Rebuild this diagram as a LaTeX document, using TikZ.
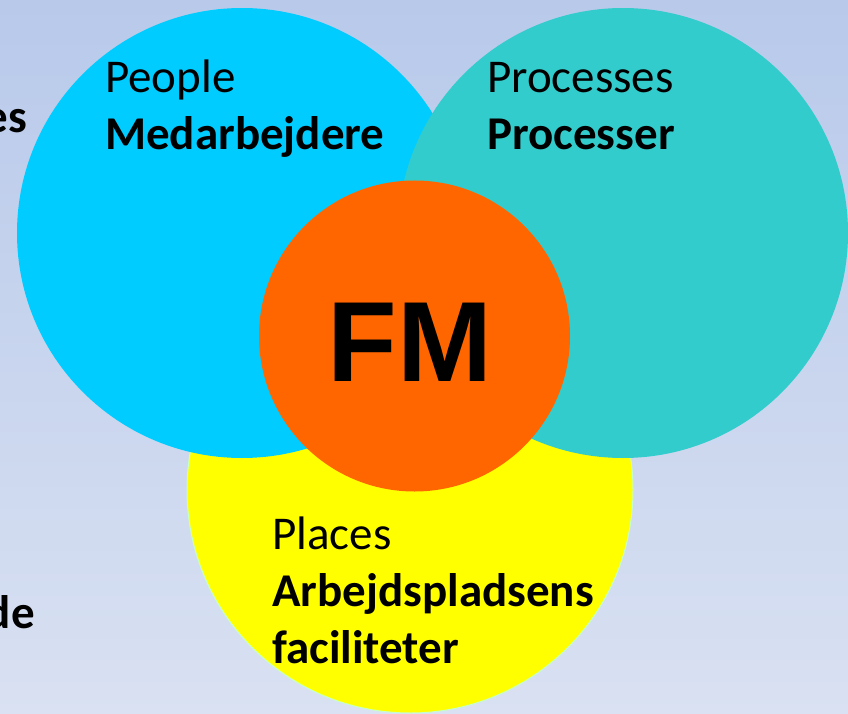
\documentclass[tikz,border=0pt]{standalone}
\usepackage{fontspec}
\setmainfont{Carlito}
\newfontfamily\fmfont{Liberation Sans}
\definecolor{bgtop}{RGB}{184,201,234}
\definecolor{bgbot}{RGB}{217,225,242}
\definecolor{peoplecol}{RGB}{0,204,255}
\definecolor{proccol}{RGB}{51,204,204}
\definecolor{placecol}{RGB}{255,255,0}
\definecolor{fmcol}{RGB}{255,102,0}
\definecolor{yedge}{RGB}{200,255,200}
\begin{document}
\begin{tikzpicture}[x=1pt,y=-1pt,
  venn/.style={circle, inner sep=0pt, draw=none},
  lbl/.style={anchor=base west, inner sep=0pt, align=left, font=\fontsize{47}{57}\selectfont},
  side/.style={anchor=base east, inner sep=0pt, font=\fontsize{47}{57}\selectfont\bfseries}]
  \shade[top color=bgtop, bottom color=bgbot] (0,0) rectangle (848,714);
  \useasboundingbox (0,0) rectangle (848,714);
  \node[side] (es) at (27,133) {es};
  \node[side] (de) at (35,628) {de};
  \node[venn, minimum size=446pt, fill=placecol, draw=yedge, line width=1pt] (places) at (410,490) {};
  \node[venn, minimum size=450pt, fill=peoplecol] (people) at (242,233) {};
  \node[venn, minimum size=450pt, fill=proccol] (processes) at (623,233) {};
  \node[venn, minimum size=311pt, fill=fmcol] (fm) at (414.5,336) {};
  \node[inner sep=0pt, anchor=base, font=\fmfont\bfseries\fontsize{114}{114}\selectfont] (fmtext) at (410,381) {FM};
  \node[lbl] (peopletext) at (105,150) {People\\\textbf{Medarbejdere}};
  \node[lbl] (proctext) at (487,150) {Processes\\\textbf{Processer}};
  \node[lbl] (placetext) at (272,663) {Places\\\textbf{Arbejdspladsens}\\\textbf{faciliteter}};
\end{tikzpicture}
\end{document}
